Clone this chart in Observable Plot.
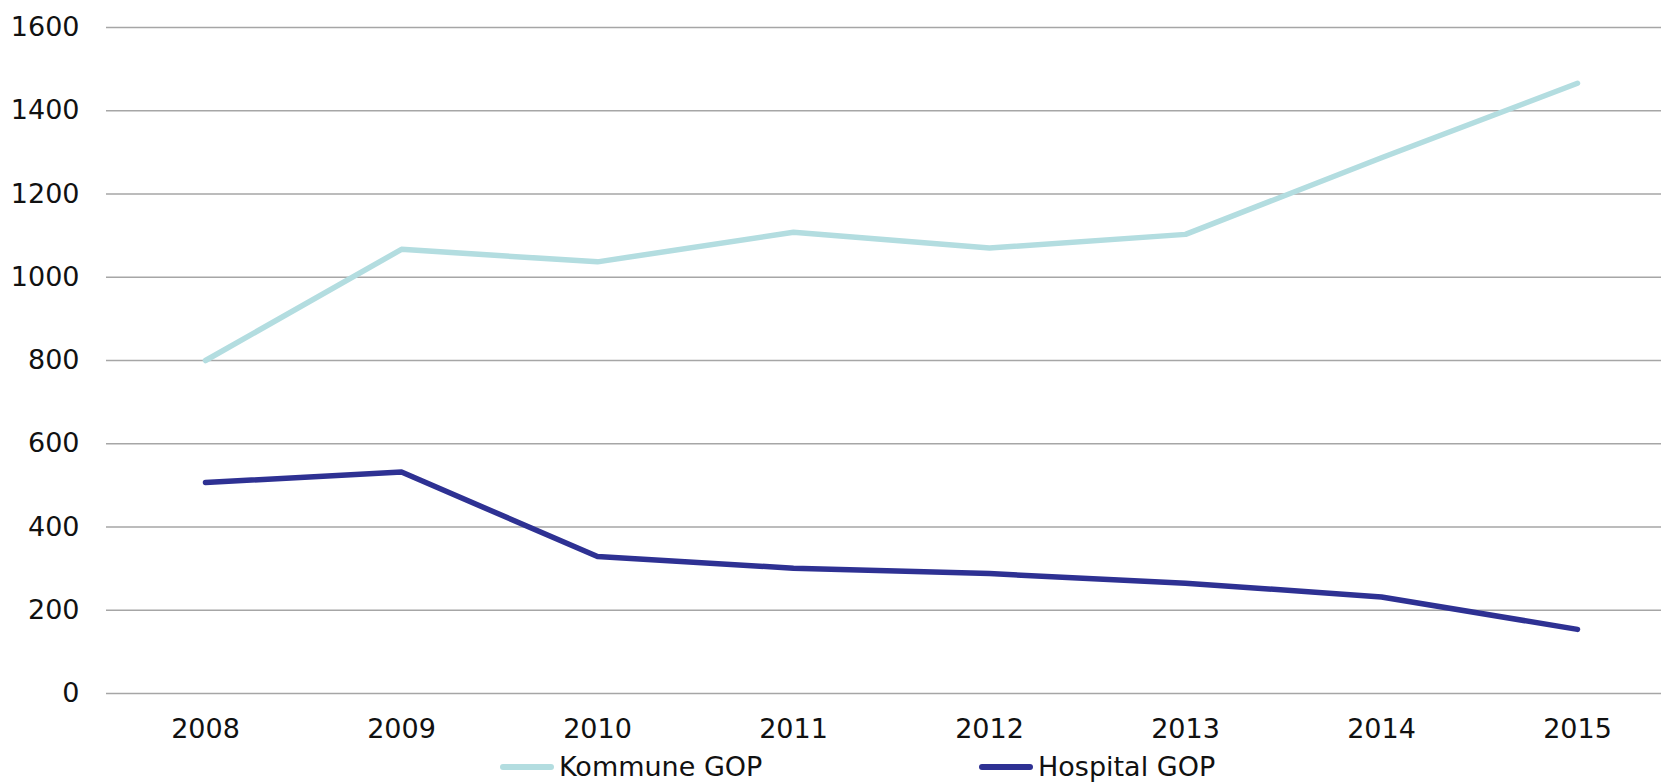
<!DOCTYPE html>
<html>
<head>
<meta charset="utf-8">
<script src="https://cdn.jsdelivr.net/npm/d3@7"></script>
<script src="https://cdn.jsdelivr.net/npm/@observablehq/plot@0.6"></script>
<style>
  html, body { margin: 0; padding: 0; background: #fff; overflow: hidden; }
  #chart { width: 1661px; }
  #chart svg { display: block; }
  .legend { position: relative; height: 37px; font-family: "DejaVu Sans", Verdana, sans-serif; font-size: 27px; color: #111; }
  .item { position: absolute; top: 6px; height: 32px; line-height: 32px; display: flex; align-items: center; white-space: nowrap; }
  .sw { width: 54px; height: 6px; border-radius: 3px; margin-right: 5px; }
</style>
</head>
<body>
<div id="chart"></div>
<script>
const years = ["2008","2009","2010","2011","2012","2013","2014","2015"];
const kommune = [800, 1067, 1037, 1108, 1070, 1103, 1287, 1466];
const hospital = [507, 532, 329, 301, 288, 265, 232, 154];
const yTicks = [0, 200, 400, 600, 800, 1000, 1200, 1400, 1600];
const seriesNames = ["Kommune GOP", "Hospital GOP"];
const seriesColors = ["#b3dde0", "#2e3193"];

const rows = [];
years.forEach((y, i) => {
  rows.push({year: y, value: kommune[i], series: seriesNames[0]});
  rows.push({year: y, value: hospital[i], series: seriesNames[1]});
});

const plot = Plot.plot({
  width: 1661,
  height: 745,
  marginLeft: 106,
  marginRight: 0,
  marginTop: 27,
  marginBottom: 52,
  style: { fontFamily: "DejaVu Sans, Verdana, sans-serif", fontSize: "27px", color: "#111", background: "#fff" },
  x: { type: "point", domain: years, range: [204, 1577], padding: 0, label: null },
  y: { domain: [0, 1600], label: null },
  color: { domain: seriesNames, range: seriesColors },
  marks: [
    Plot.ruleY(yTicks, { stroke: "#a6a6a6", strokeWidth: 1.6 }),
    Plot.axisX({ tickSize: 0, tickPadding: 25, fontSize: 27 }),
    Plot.axisY({ ticks: yTicks, tickFormat: d => String(d), tickSize: 0, tickPadding: 27, fontSize: 27 }),
    Plot.line(rows, { x: "year", y: "value", z: "series", stroke: "series", strokeWidth: 5.5, strokeLinecap: "round", strokeLinejoin: "round" })
  ]
});
document.getElementById("chart").appendChild(plot);

const legend = document.createElement("div");
legend.className = "legend";
const lefts = [500, 979];
seriesNames.forEach((name, i) => {
  const it = document.createElement("div");
  it.className = "item";
  it.style.left = lefts[i] + "px";
  const sw = document.createElement("span");
  sw.className = "sw";
  sw.style.background = seriesColors[i];
  const tx = document.createElement("span");
  tx.textContent = name;
  it.appendChild(sw); it.appendChild(tx);
  legend.appendChild(it);
});
document.getElementById("chart").appendChild(legend);
</script>
</body>
</html>
